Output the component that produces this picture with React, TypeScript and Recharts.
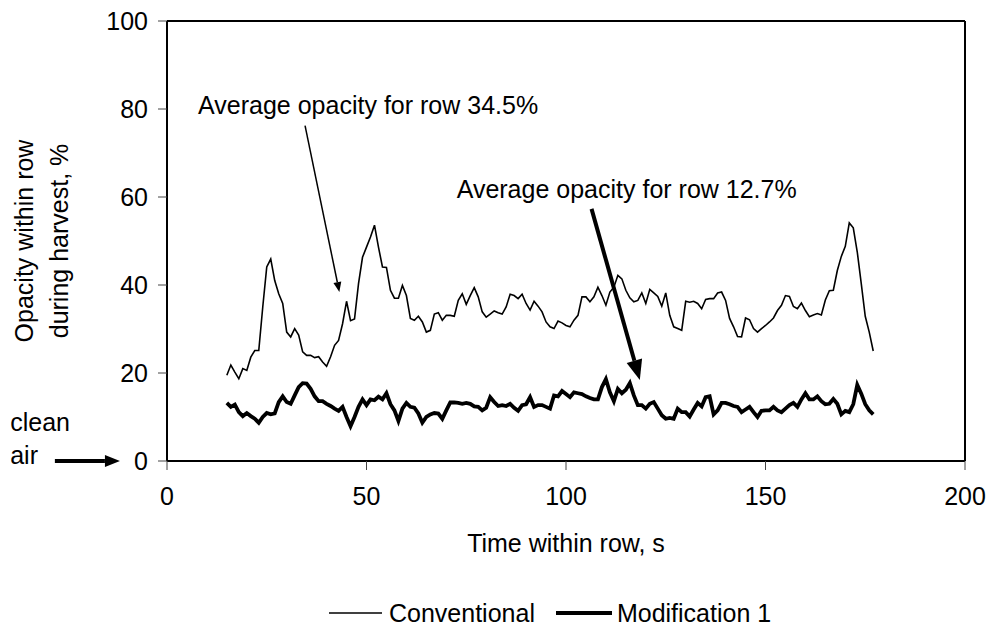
import { LineChart, Line, XAxis, YAxis, ReferenceLine, ReferenceDot, Legend, Label } from 'recharts';

const FONT = '"Liberation Sans", Arial, sans-serif';
const FS = 25;

// one reading per second, starting at 15 s
const START_TIME = 15;

const conventional = [
  19.5, 21.8, 20.2, 18.7, 21.0, 20.6, 23.6, 25.1, 25.1, 35.0,
  44.1, 45.9, 41.0, 38.0, 35.8, 29.3, 28.2, 30.1, 28.6, 24.8,
  24.0, 24.0, 23.5, 23.7, 22.5, 21.5, 23.7, 26.3, 27.4, 31.2,
  36.3, 31.9, 32.3, 40.3, 46.3, 48.6, 50.9, 53.6, 48.6, 44.1,
  44.0, 38.8, 37.0, 37.0, 39.9, 37.6, 32.4, 32.0, 32.9, 31.6,
  29.3, 29.7, 33.4, 33.7, 32.0, 33.1, 33.1, 32.9, 36.5, 38.0,
  35.6, 37.6, 39.4, 37.3, 33.9, 32.7, 33.4, 34.1, 33.7, 33.4,
  35.0, 37.9, 37.6, 36.9, 37.9, 35.8, 34.3, 36.3, 35.2, 33.9,
  31.6, 30.5, 30.1, 31.8, 31.4, 30.8, 30.5, 32.0, 33.1, 37.3,
  37.3, 36.2, 37.3, 39.5, 37.6, 35.4, 38.4, 39.5, 42.2, 41.4,
  38.8, 37.1, 36.2, 36.5, 38.2, 35.8, 39.0, 38.2, 37.4, 35.2,
  38.2, 33.1, 30.5, 30.1, 29.7, 36.3, 36.1, 36.3, 35.8, 34.6,
  36.7, 36.9, 36.9, 38.2, 38.4, 36.5, 32.4, 30.5, 28.3, 28.2,
  32.5, 32.1, 30.1, 29.3, 30.1, 30.8, 31.6, 32.5, 34.2, 35.4,
  37.6, 37.4, 35.1, 34.6, 35.9, 34.2, 32.8, 33.2, 33.5, 33.2,
  36.6, 38.7, 38.8, 43.3, 46.5, 48.8, 54.1, 53.0, 47.5, 40.3,
  32.9, 29.3, 25.0,
];

const modification = [
  13.2, 12.3, 12.8, 11.1, 10.2, 10.9, 10.2, 9.6, 8.7, 10.0,
  10.9, 10.6, 10.8, 13.4, 14.7, 13.4, 13.0, 14.9, 16.8, 17.7,
  17.6, 16.4, 14.7, 13.6, 13.6, 13.0, 12.5, 11.9, 11.4, 12.3,
  10.0, 7.9, 10.0, 12.3, 14.0, 12.7, 14.0, 13.8, 14.6, 14.0,
  15.4, 12.9, 11.5, 9.1, 11.9, 13.2, 12.3, 12.1, 10.8, 8.7,
  10.0, 10.6, 10.9, 10.8, 9.6, 11.5, 13.3, 13.3, 13.2, 13.0,
  13.2, 13.0, 12.4, 12.3, 11.5, 12.1, 14.5, 13.4, 12.5, 12.7,
  12.5, 13.0, 12.1, 11.4, 12.7, 12.9, 14.5, 12.3, 12.7, 12.7,
  12.3, 11.9, 14.9, 14.7, 15.9, 15.2, 14.5, 15.6, 15.4, 15.2,
  14.7, 14.3, 14.0, 14.0, 16.8, 18.6, 15.6, 13.6, 16.4, 15.4,
  16.2, 17.7, 14.9, 12.7, 12.7, 11.9, 13.0, 13.4, 11.9, 10.4,
  9.6, 9.8, 9.6, 11.9, 11.1, 11.1, 10.1, 11.7, 13.2, 12.4,
  14.5, 14.7, 10.6, 11.5, 13.2, 13.2, 12.9, 12.5, 12.3, 11.1,
  11.7, 12.3, 11.1, 10.0, 11.4, 11.5, 11.5, 12.3, 11.5, 11.1,
  11.9, 12.7, 13.2, 12.3, 14.0, 15.4, 14.0, 14.0, 14.7, 13.6,
  12.9, 13.0, 14.1, 13.0, 10.6, 11.4, 11.1, 12.9, 17.3, 15.3,
  12.9, 11.5, 10.6,
];

const xTicks = [0, 50, 100, 150, 200];
const yTicks = [0, 20, 40, 60, 80, 100];

const chartData = conventional.map((v, i) => ({
  t: START_TIME + i,
  conventional: v,
  modification: modification[i],
}));

// arrow drawn between the two points Recharts computed for a segment
const makeArrow = (width: number, headLen: number, headHalf: number) => (props: any) => {
  const { x1, y1, x2, y2 } = props;
  const ang = Math.atan2(y2 - y1, x2 - x1);
  const bx = x2 - headLen * Math.cos(ang);
  const by = y2 - headLen * Math.sin(ang);
  const px = -Math.sin(ang) * headHalf;
  const py = Math.cos(ang) * headHalf;
  return (
    <g>
      <line x1={x1} y1={y1} x2={bx} y2={by} stroke="#000" strokeWidth={width} />
      <polygon points={`${x2},${y2} ${bx + px},${by + py} ${bx - px},${by - py}`} fill="#000" />
    </g>
  );
};

const makeText = (text: string) => (props: any) => (
  <text x={props.cx} y={props.cy} fontFamily={FONT} fontSize={FS} fill="#000">
    {text}
  </text>
);

const renderYLabel = (props: any) => {
  const { viewBox } = props;
  const cy = viewBox.y + viewBox.height / 2;
  const x1 = viewBox.x - 74;
  const x2 = viewBox.x - 39;
  return (
    <g fontFamily={FONT} fontSize={FS} fill="#000">
      <text x={x1} y={cy} textAnchor="middle" transform={`rotate(-90, ${x1}, ${cy})`}>
        Opacity within row
      </text>
      <text x={x2} y={cy} textAnchor="middle" transform={`rotate(-90, ${x2}, ${cy})`}>
        during harvest, %
      </text>
    </g>
  );
};

const renderLegend = () => (
  <div
    style={{
      display: 'flex',
      alignItems: 'center',
      fontFamily: FONT,
      fontSize: FS,
      color: '#000',
      height: 30,
      lineHeight: '26px',
      whiteSpace: 'nowrap',
    }}
  >
    <svg width={53} height={10}>
      <line x1={0} y1={5} x2={53} y2={5} stroke="#000" strokeWidth={1.6} />
    </svg>
    <span style={{ marginLeft: 7 }}>Conventional</span>
    <svg width={56} height={10} style={{ marginLeft: 21 }}>
      <line x1={0} y1={5} x2={56} y2={5} stroke="#000" strokeWidth={4} />
    </svg>
    <span style={{ marginLeft: 5 }}>Modification 1</span>
  </div>
);

export default function App() {
  return (
    <div style={{ position: 'absolute', left: 0, top: 0, width: 992, height: 628, background: '#fff' }}>
      <LineChart width={992} height={628} data={chartData} margin={{ top: 21, right: 27, left: 107, bottom: 137 }}>
        <XAxis
          dataKey="t"
          type="number"
          domain={[0, 200]}
          ticks={xTicks}
          tickSize={9}
          tickMargin={17}
          height={30}
          axisLine={{ stroke: '#000', strokeWidth: 2 }}
          tickLine={{ stroke: '#444', strokeWidth: 1 }}
          tick={{ fill: '#000', fontSize: FS, fontFamily: FONT }}
        >
          <Label value="Time within row, s" position="bottom" offset={43} fill="#000" fontSize={FS} fontFamily={FONT} />
        </XAxis>
        <YAxis
          type="number"
          domain={[0, 100]}
          ticks={yTicks}
          width={60}
          tickSize={9}
          tickMargin={10}
          axisLine={{ stroke: '#000', strokeWidth: 2 }}
          tickLine={{ stroke: '#444', strokeWidth: 1 }}
          tick={{ fill: '#000', fontSize: FS, fontFamily: FONT }}
          label={{ content: renderYLabel }}
        />
        <ReferenceLine y={100} stroke="#000" strokeWidth={2} />
        <ReferenceLine x={200} stroke="#000" strokeWidth={2} />
        <Line type="linear" dataKey="conventional" name="Conventional" stroke="#000" strokeWidth={1.6} dot={false} isAnimationActive={false} />
        <Line type="linear" dataKey="modification" name="Modification 1" stroke="#000" strokeWidth={3.8} dot={false} isAnimationActive={false} />

        <ReferenceDot x={7.8} y={78.9} r={0} ifOverflow="visible" shape={makeText('Average opacity for row 34.5%')} />
        <ReferenceLine segment={[{ x: 34.6, y: 76.2 }, { x: 43.2, y: 38.4 }]} ifOverflow="visible" shape={makeArrow(1.5, 10, 4)} />
        <ReferenceDot x={72.6} y={59.7} r={0} ifOverflow="visible" shape={makeText('Average opacity for row 12.7%')} />
        <ReferenceLine segment={[{ x: 106.4, y: 57.3 }, { x: 118.5, y: 18.4 }]} ifOverflow="visible" shape={makeArrow(4, 20, 8)} />
        <ReferenceDot x={-39.3} y={6.9} r={0} ifOverflow="visible" shape={makeText('clean')} />
        <ReferenceDot x={-39.3} y={-0.7} r={0} ifOverflow="visible" shape={makeText('air')} />
        <ReferenceLine segment={[{ x: -28.1, y: 0 }, { x: -11.8, y: 0 }]} ifOverflow="visible" shape={makeArrow(4, 15, 6)} />

        <Legend
          layout="horizontal"
          verticalAlign="middle"
          align="center"
          content={renderLegend}
          wrapperStyle={{ left: 329, top: 598, width: 520, height: 30 }}
        />
      </LineChart>
    </div>
  );
}
